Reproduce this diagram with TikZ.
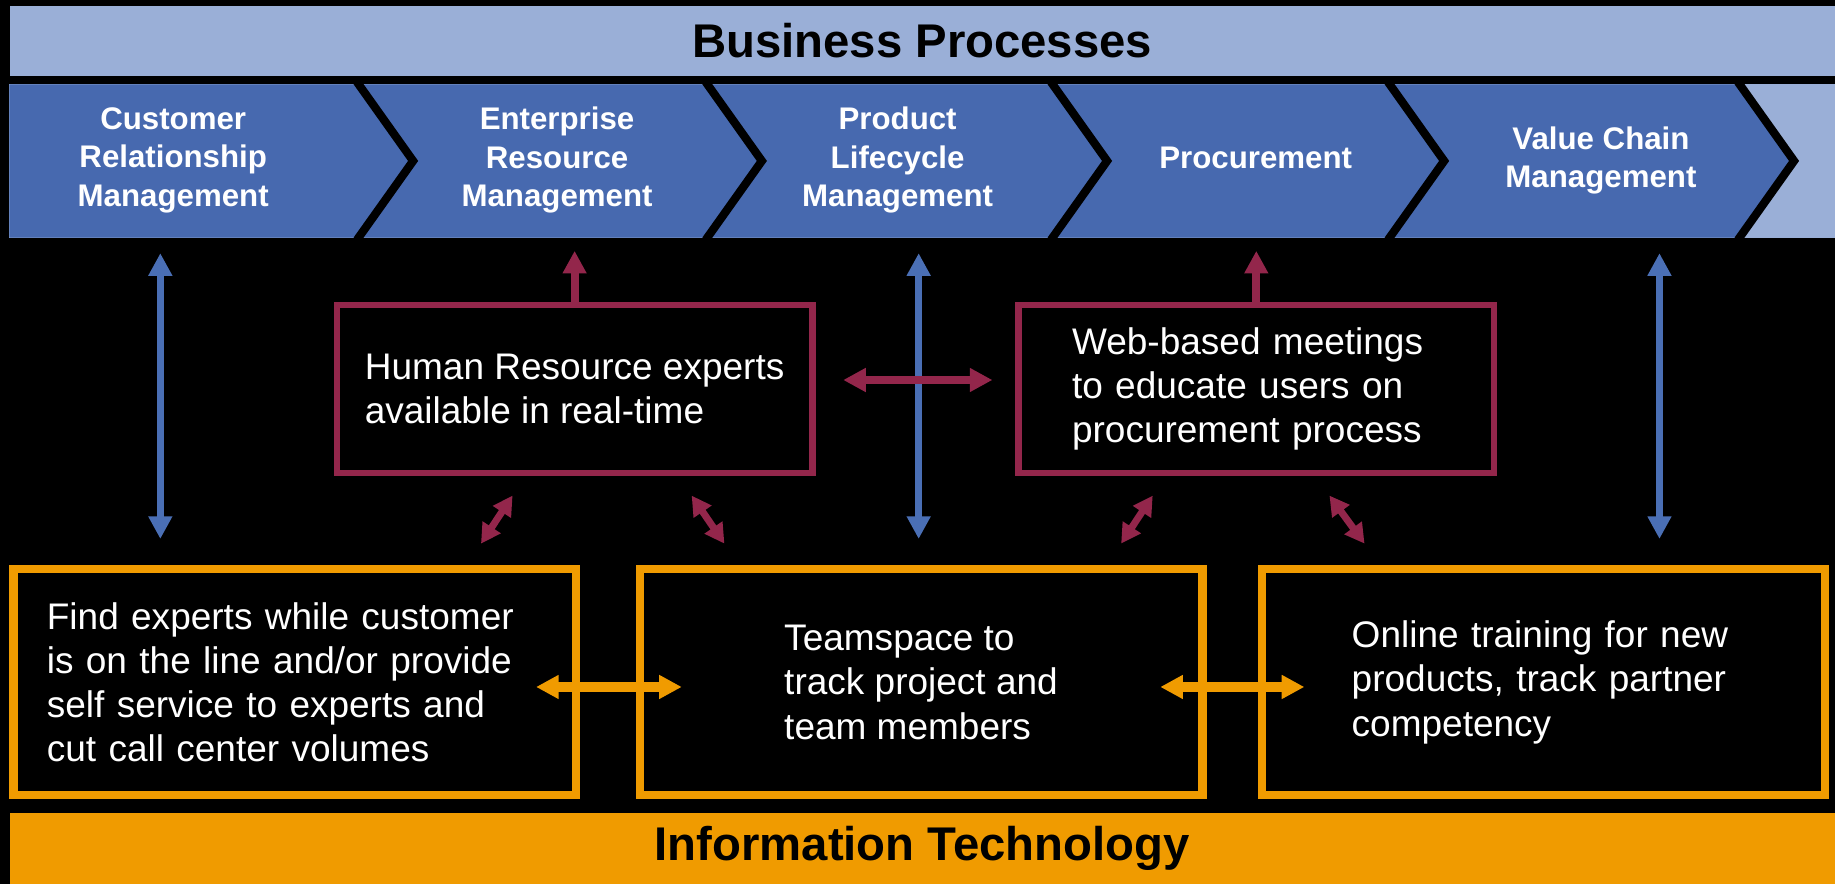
\documentclass[tikz,border=0pt]{standalone}
\usepackage{fontspec}
\setmainfont{Liberation Sans}
\usetikzlibrary{arrows.meta,calc}
\definecolor{bplight}{HTML}{9AAFD7}
\definecolor{bpblue}{HTML}{4769AF}
\definecolor{upblue}{HTML}{4A6FB5}
\definecolor{hrred}{HTML}{93264B}
\definecolor{itorange}{HTML}{F09B00}

\begin{document}
\begin{tikzpicture}[x=0.02cm,y=-0.02cm,
    banner/.style={minimum width=31.2cm,minimum height=1.2cm,inner sep=0pt,text=black,font=\bfseries\fontsize{23}{27}\selectfont},
    stage/.style={text=white,align=center,font=\bfseries\fontsize{15.2}{18.7}\selectfont},
    hrbox/.style={draw=hrred,line width=3pt,minimum width=8.13cm,minimum height=2.87cm,text=white,align=left,font=\fontsize{18}{21.5}\selectfont},
    itbox/.style={draw=itorange,line width=4pt,minimum width=9.62cm,minimum height=3.86cm,text=white,align=left,font=\fontsize{18}{21.5}\selectfont},
    sep/.style={black,line width=4pt,line join=miter},
    bluearr/.style={upblue,line width=3.5pt,{Triangle[width=11pt,length=11pt]}-{Triangle[width=11pt,length=11pt]}},
    hrarr/.style={hrred,line width=3.8pt,{Triangle[width=11pt,length=11pt]}-{Triangle[width=11pt,length=11pt]}},
    hrdiag/.style={hrred,line width=3.4pt,{Triangle[width=10pt,length=9.5pt]}-{Triangle[width=10pt,length=9.5pt]}},
    hrup/.style={hrred,line width=3.8pt,-{Triangle[width=11pt,length=11pt]}},
    itarr/.style={itorange,line width=4.5pt,{Triangle[width=11pt,length=11pt]}-{Triangle[width=11pt,length=11pt]}}
]
    % background and page size
    \fill[black] (0,0) rectangle (1568,755);

    % Business processes banner
    \node[banner,fill=bplight] (bp) at (788,35) {Business Processes};

    % Process chevrons
    \fill[bplight] (8,72) rectangle (1568,203);
    \fill[bpblue] (8,72) -- (1485,72) -- (1533,137.5) -- (1485,203) -- (8,203) -- cycle;
    \foreach \sx in {305,603,898,1186,1485}
        \draw[sep] (\sx,70) -- (\sx+48,137.5) -- (\sx,205);
    \path (788,137.5) node[minimum width=31.2cm,minimum height=2.62cm,inner sep=0pt] (row) {};
    \node[stage] (crm) at (148,137) {Customer\\Relationship\\Management};
    \node[stage] (erm) at (476,137) {Enterprise\\Resource\\Management};
    \node[stage] (plm) at (767,137) {Product\\Lifecycle\\Management};
    \node[stage] (proc) at (1073,135) {Procurement};
    \node[stage] (vcm) at (1368,137) {Value Chain\\Management};

    % Collaboration boxes
    \node[hrbox] (hr) at (491,332.5) {Human Resource experts\\available in real-time};
    \node[hrbox,text width=6.3cm] (web) at (1073.5,332.5) {Web-based meetings\\to educate users on\\procurement process};

    % IT boxes
    \node[itbox,text width=8.48cm] (find) at (252,583) {Find experts while customer\\is on the line and/or provide\\self service to experts and\\cut call center volumes};
    \node[itbox] (team) at (787,583) {Teamspace to\\track project and\\team members};
    \node[itbox,text width=6.56cm] (online) at (1319,583) {Online training for new\\products, track partner\\competency};

    % Information technology banner
    \node[banner,fill=itorange] (it) at (788,725) {Information Technology};

    % Blue links to processes
    \draw[bluearr,shorten <=0.26cm,shorten >=0.45cm] (137,0 |- row.south) -- (137,0 |- find.north);
    \draw[bluearr,shorten <=0.26cm,shorten >=0.45cm] (785,0 |- row.south) -- (785,0 |- team.north);
    \draw[bluearr,shorten <=0.26cm,shorten >=0.45cm] (1418,0 |- row.south) -- (1418,0 |- online.north);

    % Maroon links
    \draw[hrup,shorten >=0.22cm] (hr.north) -- (hr.north |- row.south);
    \draw[hrup,shorten >=0.22cm] (web.north) -- (web.north |- row.south);
    \draw[hrarr,shorten <=0.473cm,shorten >=0.393cm] ($(hr.east)+(0,-7.8)$) -- ($(web.west)+(0,-7.8)$);
    \draw[hrdiag] ($(hr.south)+(-53,16.6)$) -- ($(find.north)+(159,-18.5)$);
    \draw[hrdiag] ($(hr.south)+(100,16.6)$) -- ($(team.north)+(-168,-18.5)$);
    \draw[hrdiag] ($(web.south)+(-88.5,16.6)$) -- ($(team.north)+(171,-18.5)$);
    \draw[hrdiag] ($(web.south)+(62.5,16.6)$) -- ($(online.north)+(-153,-18.5)$);

    % Orange links
    \draw[itarr] ($(find.east)+(-37.9,4)$) -- ($(team.west)+(39.5,4)$);
    \draw[itarr] ($(team.east)+(-39.5,4)$) -- ($(online.west)+(39.5,4)$);
\end{tikzpicture}
\end{document}
